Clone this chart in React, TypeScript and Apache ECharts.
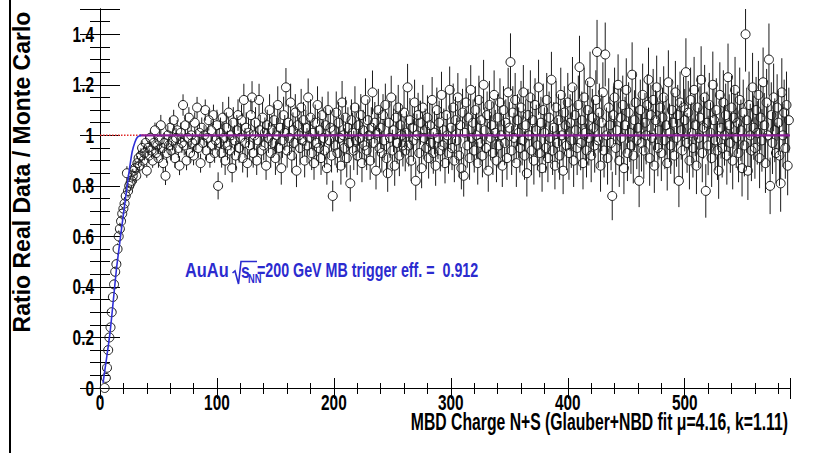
import React, { useEffect, useRef } from "react";
import * as echarts from "echarts";

// ---- data ----
const firstBinX = 4; // centre of first filled bin (bin width 1)
const ratioValues: number[] = [
  // 4..39 (turn-on)
  0.00, 0.04, 0.08, 0.15, 0.20, 0.24, 0.30, 0.36, 0.41, 0.46,
  0.49, 0.55, 0.60, 0.63, 0.66, 0.69, 0.71, 0.73, 0.76, 0.85,
  0.78, 0.80, 0.81, 0.82, 0.84, 0.86, 0.87, 0.84, 0.89, 0.91,
  0.88, 0.92, 0.95, 0.90, 0.93, 0.97,
  // 40..59
  0.86, 0.95, 0.92, 0.99, 0.94, 0.90, 0.97, 1.02, 0.93, 0.96, 0.91, 0.98, 1.04, 0.95, 0.89, 0.97, 0.84, 0.93, 1.00, 0.96,
  // 60..79
  1.03, 0.94, 0.98, 1.06, 0.91, 0.99, 1.02, 0.95, 0.88, 1.01, 0.97, 1.12, 0.96, 1.04, 0.90, 0.99, 1.07, 0.93, 1.00, 0.97,
  // 80..99
  0.92, 1.05, 0.98, 1.11, 0.95, 1.01, 0.89, 1.03, 0.97, 1.00, 1.10, 0.94, 0.99, 1.06, 0.91, 1.02, 0.96, 1.08, 0.93, 0.98,
  // 100..119
  1.04, 0.80, 0.97, 1.01, 0.93, 1.07, 0.99, 0.90, 1.03, 0.96, 1.09, 0.94, 1.00, 0.87, 1.05, 0.98, 0.92, 1.02, 1.08, 0.95,
  // 120..139
  0.99, 1.06, 0.91, 1.14, 0.97, 1.03, 0.89, 1.01, 0.96, 1.08, 1.15, 0.93, 1.00, 1.05, 0.90, 0.98, 1.14, 1.02, 0.94, 1.07,
  // 140..159
  0.96, 1.01, 0.88, 1.04, 0.99, 1.10, 0.93, 1.02, 0.97, 1.06, 0.91, 1.00, 1.12, 0.95, 1.03, 0.87, 0.98, 1.08, 1.01, 1.19,
  // 160..179
  0.94, 1.05, 0.99, 1.13, 0.92, 1.02, 0.97, 1.09, 0.86, 1.04, 1.00, 0.95, 1.11, 0.98, 1.06, 0.90, 1.03, 0.96, 1.15, 0.99,
  // 180..199
  1.07, 0.93, 1.01, 0.89, 1.05, 0.97, 1.12, 0.95, 1.02, 0.91, 1.08, 0.99, 0.94, 1.04, 0.87, 1.10, 0.98, 1.03, 0.92, 0.76,
  // 200..219
  1.02, 0.96, 1.09, 0.93, 1.05, 0.99, 0.88, 1.13, 1.00, 0.95, 1.07, 0.91, 1.03, 0.97, 0.81, 1.06, 1.01, 0.94, 1.11, 0.98,
  // 220..239
  0.92, 1.04, 0.99, 1.08, 0.89, 1.02, 0.96, 1.14, 0.94, 1.06, 1.00, 0.90, 1.03, 1.17, 0.97, 1.05, 0.86, 1.01, 1.10, 0.95,
  // 240..259
  1.03, 0.93, 1.08, 0.98, 1.12, 0.91, 0.85, 1.05, 0.99, 1.15, 0.94, 1.02, 0.88, 1.07, 0.97, 1.11, 0.92, 1.04, 1.00, 0.96,
  // 260..279
  1.09, 0.94, 1.01, 1.19, 0.96, 1.06, 0.90, 1.03, 0.98, 1.13, 0.82, 1.00, 1.08, 0.93, 1.05, 0.87, 1.11, 0.99, 1.02, 0.95,
  // 280..299
  1.07, 0.91, 1.04, 0.97, 1.14, 0.93, 1.01, 0.88, 1.10, 0.99, 1.05, 0.94, 1.16, 0.96, 1.02, 0.89, 1.08, 1.00, 0.93, 1.18,
  // 300..319
  1.03, 0.95, 1.11, 0.90, 1.06, 0.98, 1.15, 0.92, 1.04, 0.87, 1.09, 0.84, 1.01, 1.13, 0.96, 1.07, 0.91, 1.18, 0.99, 1.05,
  // 320..339
  0.94, 1.10, 1.00, 0.89, 1.14, 0.97, 1.06, 0.92, 1.20, 1.02, 0.95, 1.08, 0.86, 1.12, 0.99, 1.04, 0.93, 1.16, 1.01, 0.90,
  // 340..359
  1.07, 0.96, 1.13, 1.00, 0.88, 1.10, 0.97, 1.05, 0.91, 1.17, 1.03, 1.29, 0.94, 1.09, 0.99, 1.14, 0.89, 1.06, 1.01, 0.95,
  // 360..379
  1.11, 0.98, 1.17, 0.92, 1.04, 0.85, 1.08, 1.00, 1.15, 0.94, 1.06, 0.90, 1.12, 1.02, 0.96, 1.19, 0.93, 1.05, 0.87, 1.10,
  // 380..399
  1.01, 0.95, 1.14, 0.91, 1.07, 0.99, 1.22, 0.94, 1.03, 0.88, 1.11, 0.97, 1.06, 0.92, 1.16, 1.00, 0.86, 1.09, 1.04, 0.96,
  // 400..419
  1.13, 0.93, 1.05, 0.98, 1.19, 0.90, 1.08, 1.02, 0.95, 1.12, 1.27, 0.97, 1.06, 0.89, 1.15, 1.01, 0.94, 1.10, 0.99, 1.21,
  // 420..439
  0.92, 1.07, 1.03, 0.96, 1.14, 1.33, 0.98, 1.09, 0.88, 1.05, 1.17, 0.94, 1.32, 1.00, 0.91, 1.11, 1.04, 0.97, 0.76, 1.08,
  // 440..459
  1.15, 0.95, 1.02, 1.20, 0.90, 1.07, 0.99, 1.12, 0.87, 1.04, 1.18, 0.93, 1.09, 1.01, 0.96, 1.24, 0.92, 1.06, 1.13, 0.98,
  // 460..479
  1.03, 0.82, 1.10, 0.97, 1.16, 0.94, 1.05, 1.00, 1.12, 1.22, 0.91, 1.08, 0.99, 1.14, 0.88, 1.06, 1.19, 0.95, 1.02, 1.11,
  // 480..499
  0.93, 1.07, 1.15, 0.98, 1.04, 0.89, 1.21, 1.01, 0.96, 1.10, 1.05, 0.92, 1.17, 0.99, 1.08, 0.82, 1.13, 1.02, 0.94, 1.11,
  // 500..519
  1.06, 1.25, 0.97, 1.09, 0.90, 1.14, 1.01, 0.95, 1.18, 1.04, 0.88, 1.11, 0.99, 1.07, 1.22, 0.93, 1.03, 1.15, 0.78, 1.05,
  // 520..539
  0.96, 1.12, 1.01, 0.91, 1.20, 1.06, 0.98, 1.10, 0.94, 0.86, 1.16, 1.03, 0.95, 1.13, 1.00, 1.08, 0.92, 1.23, 1.04, 0.97,
  // 540..559
  1.11, 0.90, 1.07, 1.18, 0.99, 1.05, 0.93, 1.14, 1.02, 0.87, 1.09, 0.96, 1.40, 1.06, 0.86, 1.12, 1.00, 0.94, 1.19, 1.03,
  // 560..579
  0.95, 1.10, 1.01, 1.16, 0.91, 1.07, 0.98, 1.21, 1.04, 0.89, 1.13, 1.00, 1.30, 0.80, 1.08, 0.97, 1.15, 1.02, 0.93, 1.11,
  // 580..589
  1.05, 0.92, 0.81, 1.17, 1.00, 1.09, 0.95, 1.12, 0.88, 1.06,
];

// typical error-bar half length (at ratio 1) per 50-unit band of x
const errBandStart = [0, 50, 100, 150, 200, 250, 300, 350, 400, 450, 500, 550];
const errBandSize = [0.03, 0.04, 0.06, 0.07, 0.08, 0.085, 0.09, 0.1, 0.11, 0.115, 0.12, 0.125];

// fitted turn-on curve and reference lines
const fitCurve: [number, number][] = [
  [2.6, 0.02], [8.6, 0.22], [14.3, 0.48], [21.5, 0.74], [25, 0.86],
  [27.5, 0.935], [30, 0.975], [32, 0.993], [35, 1.0],
];
const unityDotted: [number, number][] = [[0, 1], [40, 1]];
const plateau: [number, number][] = [[34, 1], [590, 1]];

const xMin = 0, xMax = 590, yMin = 0, yMax = 1.5;
const xTickLabels = [0, 100, 200, 300, 400, 500];
const yTickLabels = [0, 0.2, 0.4, 0.6, 0.8, 1, 1.2, 1.4];

const yTitle = "Ratio Real Data / Monte Carlo";
const xTitle = "MBD Charge N+S (Glauber+NBD fit \u03bc=4.16, k=1.11)";
const noteAu = "AuAu";
const noteRest = "=200 GeV MB trigger eff. =  0.912";

const TEXT_FONT = "'Liberation Sans', Arial, Helvetica, sans-serif";
const BLUE = "#2b2bcf";
const NARROW = 0.7;

export default function App() {
  const ref = useRef<HTMLDivElement>(null);
  useEffect(() => {
    if (!ref.current) return;
    const chart = echarts.init(ref.current, null, { renderer: "svg" });

    const points = ratioValues.map((v, i) => {
      const x = firstBinX + i;
      let b = 0;
      for (let k = 0; k < errBandStart.length; k++) if (x >= errBandStart[k]) b = k;
      const e = errBandSize[b] * Math.sqrt(Math.max(v, 0.05));
      return [x, v, e];
    });

    const lineStyle = { color: "#000", width: 1 };

    const mkX = (pos: "bottom" | "top", interval: number, len: number, major: boolean) => ({
      type: "value", position: pos, min: xMin, max: xMax, interval,
      axisLine: { show: major, lineStyle },
      axisTick: { show: true, inside: true, length: len, lineStyle },
      axisLabel: { show: false },
      splitLine: { show: false },
    });
    const mkY = (pos: "left" | "right", interval: number, len: number, major: boolean) => ({
      type: "value", position: pos, min: yMin, max: yMax, interval,
      axisLine: { show: major, lineStyle },
      axisTick: { show: true, inside: true, length: len, lineStyle },
      axisLabel: { show: false },
      splitLine: { show: false },
    });

    const staticGraphics: any[] = [
      { type: "line", shape: { x1: 10, y1: 0, x2: 10, y2: 453 }, style: { stroke: "#000", lineWidth: 2 } },
      {
        type: "text", x: 22, y: 172, rotation: Math.PI / 2,
        style: { text: yTitle, font: `bold 23px ${TEXT_FONT}`, fill: "#000", textAlign: "center", textVerticalAlign: "middle" },
      },
      {
        type: "text", x: 788, y: 421.5, scaleX: 0.685,
        style: { text: xTitle, font: `bold 23px ${TEXT_FONT}`, fill: "#000", textAlign: "right", textVerticalAlign: "middle" },
      },
      {
        type: "text", x: 185, y: 269.5, scaleX: 0.78,
        style: { text: noteAu, font: `bold 21px ${TEXT_FONT}`, fill: BLUE, textAlign: "left", textVerticalAlign: "middle" },
      },
      {
        type: "polyline",
        shape: { points: [[232.5, 273], [235, 271], [238.5, 284], [241, 261.5], [257, 261.5]] },
        style: { stroke: BLUE, lineWidth: 1.6, fill: "none" },
      },
      {
        type: "text", x: 241, y: 271, scaleX: 0.75,
        style: { text: "s", font: `bold 21px ${TEXT_FONT}`, fill: BLUE, textAlign: "left", textVerticalAlign: "middle" },
      },
      {
        type: "text", x: 248, y: 278, scaleX: 0.72,
        style: { text: "NN", font: `bold 13px ${TEXT_FONT}`, fill: BLUE, textAlign: "left", textVerticalAlign: "middle" },
      },
      {
        type: "text", x: 257, y: 269.5, scaleX: 0.68,
        style: { text: noteRest, font: `bold 21px ${TEXT_FONT}`, fill: BLUE, textAlign: "left", textVerticalAlign: "middle" },
      },
    ];

    chart.setOption({
      animation: false,
      backgroundColor: "#fff",
      grid: { left: 100, top: 9, right: 25, bottom: 65, containLabel: false },
      xAxis: [
        mkX("bottom", 100, 10, true),
        mkX("bottom", 20, 5, false),
        mkX("top", 100, 11, true),
        mkX("top", 20, 6, false),
      ],
      yAxis: [
        mkY("left", 0.2, 20, true),
        mkY("left", 0.05, 10, false),
        mkY("right", 0.2, 20, true),
        mkY("right", 0.05, 10, false),
      ],
      series: [
        {
          type: "custom",
          xAxisIndex: 0, yAxisIndex: 0,
          data: points,
          z: 2,
          renderItem: (_p: any, api: any) => {
            const x = api.value(0), y = api.value(1), e = api.value(2);
            const c = api.coord([x, y]);
            const t = api.coord([x, Math.min(y + e, yMax)]);
            const b = api.coord([x, Math.max(y - e, yMin)]);
            const r = 4.5;
            const children: any[] = [];
            const st = { stroke: "#1a1a1a", lineWidth: 1 };
            if (t[1] < c[1] - r) children.push({ type: "line", shape: { x1: c[0], y1: t[1], x2: c[0], y2: c[1] - r }, style: st });
            if (b[1] > c[1] + r) children.push({ type: "line", shape: { x1: c[0], y1: c[1] + r, x2: c[0], y2: b[1] }, style: st });
            children.push({ type: "circle", shape: { cx: c[0], cy: c[1], r }, style: { fill: "none", stroke: "#1a1a1a", lineWidth: 1 } });
            return { type: "group", children };
          },
        },
        {
          type: "line", data: unityDotted, symbol: "none", z: 4,
          lineStyle: { color: "#e02a2a", width: 1.5, type: "dotted" },
        },
        {
          type: "line", data: plateau, symbol: "none", z: 5,
          lineStyle: { color: "#8c1f97", width: 2.2 },
        },
        {
          type: "line", data: fitCurve, symbol: "none", z: 6, smooth: 0.2,
          lineStyle: { color: "#3030d8", width: 1.6 },
        },
      ],
      graphic: staticGraphics,
    });

    // tick labels in the narrow ROOT style, placed through the axes' own scales
    const labelFont = `bold 22px ${TEXT_FONT}`;
    const x0Pix = chart.convertToPixel({ xAxisIndex: 0 }, 0) as number;
    const y0Pix = chart.convertToPixel({ yAxisIndex: 0 }, 0) as number;
    const xLabels = xTickLabels.map((v) => ({
      type: "text",
      x: chart.convertToPixel({ xAxisIndex: 0 }, v) as number,
      y: y0Pix + 14.5,
      scaleX: NARROW,
      style: { text: String(v), font: labelFont, fill: "#000", textAlign: "center", textVerticalAlign: "middle" },
    }));
    const yLabels = yTickLabels.map((v) => ({
      type: "text",
      x: x0Pix - 6,
      y: chart.convertToPixel({ yAxisIndex: 0 }, v) as number,
      scaleX: NARROW,
      style: { text: String(v), font: labelFont, fill: "#000", textAlign: "right", textVerticalAlign: "middle" },
    }));
    chart.setOption({ graphic: [...staticGraphics, ...xLabels, ...yLabels] });

    return () => chart.dispose();
  }, []);
  return (
    <div
      ref={ref}
      style={{ position: "fixed", left: 0, top: 0, width: 815, height: 453, background: "#fff" }}
    />
  );
}
